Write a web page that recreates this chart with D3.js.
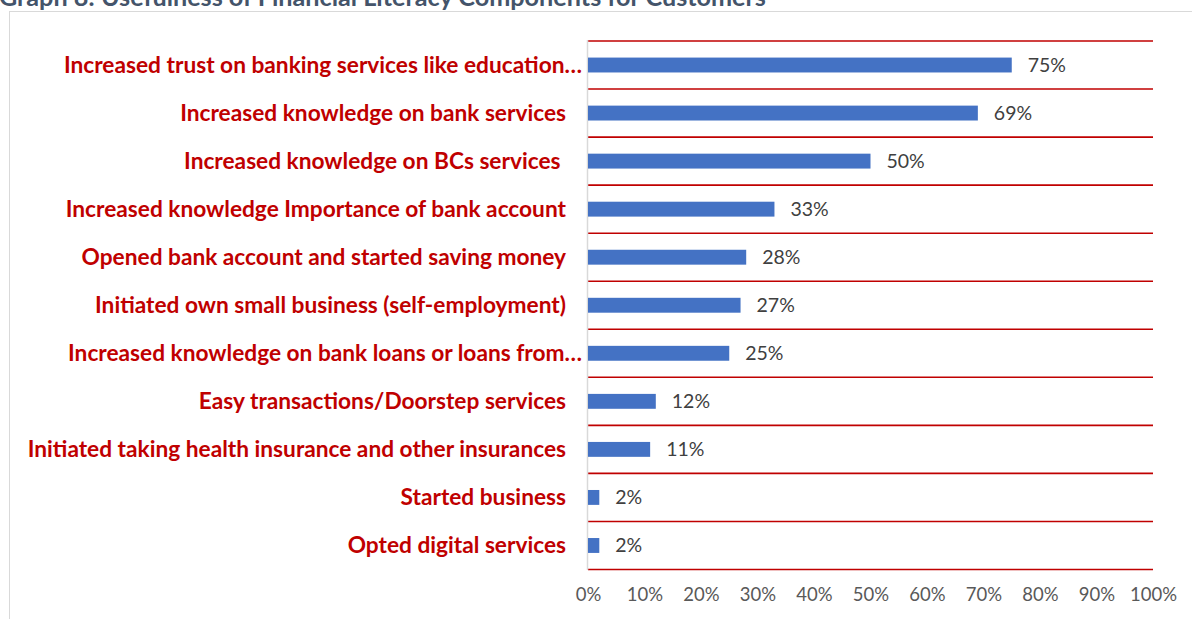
<!DOCTYPE html>
<html>
<head>
<meta charset="utf-8">
<script src="https://cdn.jsdelivr.net/npm/d3@7"></script>
<style>
  html, body { margin: 0; padding: 0; background: #fff; }
  svg { display: block; }
  text { font-family: Lato, "Open Sans", sans-serif; }
</style>
</head>
<body>
<svg id="chart" width="1192" height="619"></svg>
<script>
// Survey responses: share of customers reporting each benefit
const categories = [
  "Increased trust on banking services like education…",
  "Increased knowledge on bank services",
  "Increased knowledge on BCs services ",
  "Increased knowledge Importance of bank account",
  "Opened bank account and started saving money",
  "Initiated own small business (self-employment)",
  "Increased knowledge on bank loans or loans from…",
  "Easy transactions/Doorstep services",
  "Initiated taking health insurance and other insurances",
  "Started business",
  "Opted digital services"
];
const values = [75, 69, 50, 33, 28, 27, 25, 12, 11, 2, 2];
const tickValues = [0, 10, 20, 30, 40, 50, 60, 70, 80, 90, 100];
const title = "Graph 8: Usefulness of Financial Literacy Components for Customers";

const svg = d3.select("#chart");

// Heading above the framed chart
svg.append("text")
  .attr("x", -1).attr("y", 6)
  .attr("fill", "#44546A")
  .attr("font-weight", 700)
  .attr("font-size", 25.2)
  .text(title);

// Chart frame
svg.append("rect")
  .attr("x", 9.5).attr("y", 11.5)
  .attr("width", 1300).attr("height", 700)
  .attr("fill", "none")
  .attr("stroke", "#D9D9D9")
  .attr("stroke-width", 1);

const x = d3.scaleLinear().domain([0, 100]).range([588, 1153]);
const y = d3.scaleBand().domain(categories).range([41, 569.5]).paddingInner(0.69).paddingOuter(0.345);
const step = y.step();
const bandTop = d => y(d) - y.paddingOuter() * step;

// Red separators between categories
const seps = categories.map(bandTop).concat([bandTop(categories[categories.length - 1]) + step]);
svg.append("g").selectAll("line").data(seps).join("line")
  .attr("x1", x(0)).attr("x2", x(100))
  .attr("y1", d => d).attr("y2", d => d)
  .attr("stroke", "#C00000")
  .attr("stroke-width", 1.6);

// Category axis line
svg.append("line")
  .attr("x1", x(0) - 0.5).attr("x2", x(0) - 0.5)
  .attr("y1", 40).attr("y2", 570)
  .attr("stroke", "#D9D9D9").attr("stroke-width", 1.5);

// Bars
svg.append("g").selectAll("rect").data(values).join("rect")
  .attr("x", x(0))
  .attr("y", (d, i) => y(categories[i]))
  .attr("width", d => x(d) - x(0))
  .attr("height", y.bandwidth())
  .attr("fill", "#4472C4");

// Value labels
svg.append("g").selectAll("text").data(values).join("text")
  .attr("x", d => x(d) + 16)
  .attr("y", (d, i) => y(categories[i]) + y.bandwidth() / 2)
  .attr("dy", "0.35em")
  .attr("fill", "#404040")
  .attr("font-size", 19.5)
  .text(d => d + "%");

// Category labels (truncated ones run a little further right)
svg.append("g").selectAll("text").data(categories).join("text")
  .attr("x", d => d.endsWith("…") ? 582 : 566)
  .attr("y", d => y(d) + y.bandwidth() / 2)
  .attr("dy", "0.35em")
  .attr("text-anchor", "end")
  .attr("fill", "#C00000")
  .attr("font-weight", 700)
  .attr("font-size", 22.7)
  .style("white-space", "pre")
  .text(d => d);

// Percentage axis
const axis = d3.axisBottom(x).tickValues(tickValues).tickFormat(d => d + "%").tickSize(0).tickPadding(0);
const gx = svg.append("g").attr("transform", "translate(0,588)").call(axis);
gx.select(".domain").remove();
gx.selectAll("text")
  .attr("fill", "#595959")
  .attr("font-size", 18.5)
  .attr("font-family", "Lato, 'Open Sans', sans-serif")
  .attr("dy", "0.71em");
</script>
</body>
</html>
